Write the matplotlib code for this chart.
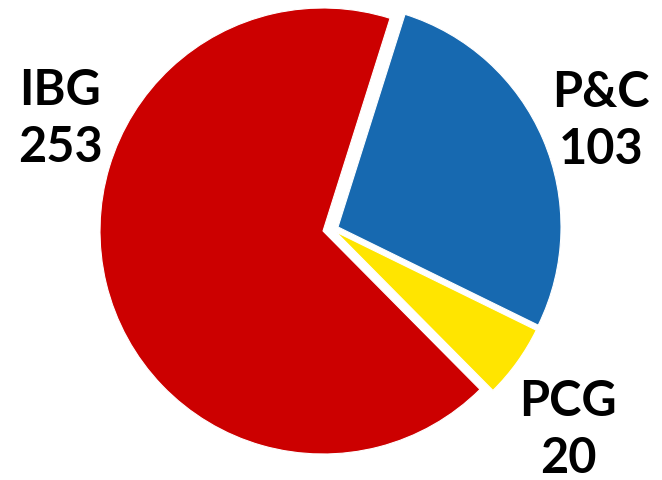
import matplotlib

matplotlib.use("Agg")
import matplotlib.pyplot as plt

parties = ["P&C", "PCG", "IBG"]
seats = [103, 20, 253]
colors = ["#1769B0", "#FFE500", "#CC0000"]

W, H = 662, 481
CX, CY = 323, H - 232
# pulled-out slices, shift in pixels (x right, y up)
shifts = [(15, 4), (13, -1), (0, 0)]

fig = plt.figure(figsize=(W / 100, H / 100), dpi=100)
ax = fig.add_axes([0, 0, 1, 1])

wedges, _ = ax.pie(
    seats,
    colors=colors,
    startangle=72.5,
    counterclock=False,
    radius=223,
    center=(CX, CY),
    wedgeprops=dict(edgecolor="white", linewidth=0.8),
)
for w, (dx, dy) in zip(wedges, shifts):
    w.set_center((CX + dx, CY + dy))

ax.set_xlim(0, W)
ax.set_ylim(0, H)
ax.set_aspect("equal")
ax.axis("off")

# label blocks, name over seat count
label_pos = {"IBG": (60, 119), "P&C": (601, 121), "PCG": (568, 430)}
for name, n in zip(parties, seats):
    x, y = label_pos[name]
    ax.text(x, H - y, f"{name}\n{n}", ha="center", va="center",
            fontsize=35, fontweight="bold", family="Lato",
            linespacing=1.32, color="black")

fig.savefig("out.png", dpi=100)
